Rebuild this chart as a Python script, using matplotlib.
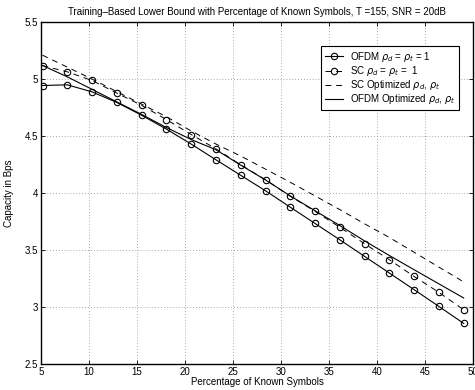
import numpy as np
import matplotlib
matplotlib.use("Agg")
import matplotlib.pyplot as plt

plt.rcParams['font.family'] = ['Liberation Sans', 'DejaVu Sans']

# percentage of known symbols (k/155 * 100, k = 8, 12, ..., 76)
known = [8, 12, 16, 20, 24, 28, 32, 36, 40, 44, 48, 52, 56, 60, 64, 68, 72, 76]
pct = [100.0 * k / 155 for k in known]

# OFDM rho_d = rho_t = 1
ofdm_rho1 = [4.944, 4.950, 4.888, 4.795, 4.683, 4.561, 4.430, 4.292, 4.156, 4.020,
             3.876, 3.733, 3.590, 3.444, 3.298, 3.152, 3.005, 2.856]
# SC rho_d = rho_t = 1
sc_rho1 = [5.118, 5.064, 4.988, 4.877, 4.770, 4.645, 4.514, 4.388, 4.248, 4.117,
           3.972, 3.839, 3.700, 3.555, 3.415, 3.268, 3.128, 2.976]
# SC optimized
sc_opt = [5.21, 5.105, 5.00, 4.89, 4.78, 4.67, 4.545, 4.43, 4.325, 4.21,
          4.095, 3.975, 3.855, 3.73, 3.61, 3.48, 3.35, 3.22]
# OFDM optimized
ofdm_opt = [5.12, 5.02, 4.91, 4.80, 4.69, 4.575, 4.47, 4.38, 4.245, 4.115,
            3.975, 3.845, 3.715, 3.58, 3.452, 3.327, 3.203, 3.079]

fig = plt.figure(figsize=(4.75, 3.9), dpi=100)
ax = fig.add_axes([0.0863, 0.0667, 0.9095, 0.8765])

ax.plot(pct, ofdm_rho1, '-o', color='k', lw=0.8, ms=4.6, mfc='none', mew=0.8,
        label=r'OFDM $\rho_d$ = $\rho_t$ = 1')
ax.plot(pct, sc_rho1, 'o', color='k', lw=0.7, ms=4.6, mfc='none', mew=0.8,
        linestyle=(0, (6, 5)), label=r'SC $\rho_d$ = $\rho_t$ =  1')
ax.plot(pct, sc_opt, color='k', lw=0.7, linestyle=(0, (6, 5)),
        label=r'SC Optimized $\rho_d$, $\rho_t$')
ax.plot(pct, ofdm_opt, '-', color='k', lw=0.8,
        label=r'OFDM Optimized $\rho_d$, $\rho_t$')

ax.set_xlim(5, 50)
ax.set_ylim(2.5, 5.5)
ax.set_xticks(np.arange(5, 51, 5))
ax.set_yticks(np.arange(2.5, 5.51, 0.5))
ax.set_yticklabels(['2.5', '3', '3.5', '4', '4.5', '5', '5.5'])
ax.tick_params(direction='in', top=True, right=True, labelsize=7, length=3,
               width=0.6, pad=2)
ax.grid(True, linestyle=(0, (1, 2.5)), color='0.55', lw=0.6)
for s in ax.spines.values():
    s.set_linewidth(1.0)

ax.set_title('Training\u2013Based Lower Bound with Percentage of Known Symbols, T =155, SNR = 20dB',
             fontsize=7, pad=5)
ax.set_xlabel('Percentage of Known Symbols', fontsize=7, labelpad=0)
ax.set_ylabel('Capacity in Bps', fontsize=7, labelpad=8)

leg = ax.legend(loc='upper right', bbox_to_anchor=(0.978, 0.943), fontsize=7,
                fancybox=False, edgecolor='k', framealpha=1, handlelength=1.9,
                borderpad=0.35, labelspacing=0.02, handletextpad=0.7)
leg.get_frame().set_linewidth(0.8)

fig.savefig('out.png', dpi=100)
